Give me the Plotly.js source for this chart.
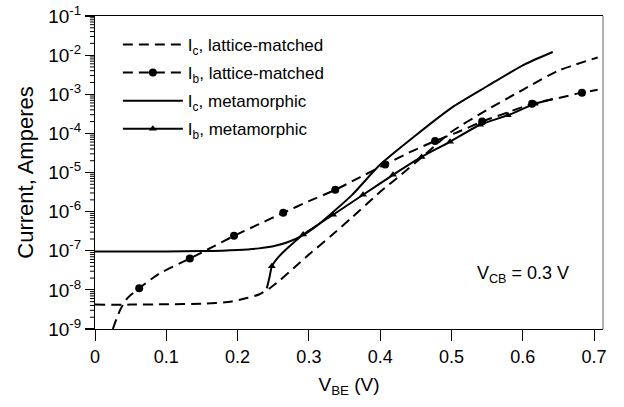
<!DOCTYPE html>
<html>
<head>
<meta charset="utf-8">
<script src="https://cdn.plot.ly/plotly-3.0.1.min.js"></script>
<style>html,body{margin:0;padding:0;background:#fff;}#chart{width:624px;height:407px;}</style>
</head>
<body>
<div id="chart"></div>
<script>
// Ic, lattice-matched (dashed)
const icLatV = [0, 0.05, 0.10, 0.15, 0.19, 0.21, 0.23, 0.245, 0.26, 0.28, 0.30, 0.33, 0.36, 0.40, 0.43, 0.46, 0.50, 0.55, 0.60, 0.65, 0.705];
const icLatI = [4.2e-9, 4.2e-9, 4.3e-9, 4.4e-9, 5e-9, 6e-9, 7.6e-9, 1.1e-8, 1.8e-8, 3.8e-8, 8e-8, 2.3e-7, 7e-7, 3.2e-6, 9e-6, 2.6e-5, 1.1e-4, 4e-4, 1.3e-3, 4e-3, 8.7e-3];

// Ib, lattice-matched (dashed line + dots)
const ibLatV = [0.025, 0.035, 0.045, 0.062, 0.09, 0.133, 0.165, 0.195, 0.23, 0.264, 0.30, 0.337, 0.37, 0.407, 0.44, 0.477, 0.51, 0.543, 0.58, 0.613, 0.65, 0.683, 0.705];
const ibLatI = [1e-9, 3e-9, 6e-9, 1.1e-8, 2.6e-8, 6.3e-8, 1.25e-7, 2.4e-7, 4.8e-7, 9.3e-7, 1.85e-6, 3.6e-6, 7.3e-6, 1.6e-5, 3.2e-5, 6.4e-5, 1.1e-4, 2e-4, 3.5e-4, 5.7e-4, 8e-4, 1.1e-3, 1.3e-3];
const ibLatMarkV = [0.062, 0.133, 0.195, 0.264, 0.337, 0.407, 0.477, 0.543, 0.613, 0.683];
const ibLatMarkI = [1.1e-8, 6.3e-8, 2.4e-7, 9.3e-7, 3.6e-6, 1.6e-5, 6.4e-5, 2e-4, 5.7e-4, 1.1e-3];

// Ic, metamorphic (solid)
const icMetV = [0, 0.05, 0.10, 0.15, 0.20, 0.23, 0.25, 0.27, 0.29, 0.31, 0.33, 0.36, 0.40, 0.45, 0.50, 0.55, 0.60, 0.642];
const icMetI = [9.5e-8, 9.5e-8, 9.6e-8, 9.8e-8, 1.05e-7, 1.15e-7, 1.3e-7, 1.65e-7, 2.4e-7, 4.2e-7, 8.5e-7, 2.6e-6, 1.6e-5, 9e-5, 4.5e-4, 1.6e-3, 5.5e-3, 1.2e-2];

// Ib, metamorphic (solid line + triangles)
const ibMetV = [0.241, 0.245, 0.248, 0.256, 0.266, 0.28, 0.292, 0.334, 0.376, 0.418, 0.458, 0.498, 0.54, 0.579, 0.617, 0.642];
const ibMetI = [1.1e-8, 2.2e-8, 4e-8, 6.5e-8, 1e-7, 1.7e-7, 2.6e-7, 8.3e-7, 2.7e-6, 8.7e-6, 2.5e-5, 6.1e-5, 1.66e-4, 2.9e-4, 5.7e-4, 7.6e-4];
const ibMetMarkV = [0.248, 0.292, 0.334, 0.376, 0.418, 0.458, 0.498, 0.54, 0.579, 0.617];
const ibMetMarkI = [4e-8, 2.6e-7, 8.3e-7, 2.7e-6, 8.7e-6, 2.5e-5, 6.1e-5, 1.66e-4, 2.9e-4, 5.7e-4];

const legendNames = ["I<sub>c</sub>, lattice-matched", "I<sub>b</sub>, lattice-matched", "I<sub>c</sub>, metamorphic", "I<sub>b</sub>, metamorphic"];
const yTickVals = [1e-9, 1e-8, 1e-7, 1e-6, 1e-5, 1e-4, 1e-3, 1e-2, 1e-1];
const yTickText = ["10<sup>-9</sup>", "10<sup>-8</sup>", "10<sup>-7</sup>", "10<sup>-6</sup>", "10<sup>-5</sup>", "10<sup>-4</sup>", "10<sup>-3</sup>", "10<sup>-2</sup>", "10<sup>-1</sup>"];
const yMinorVals = [];
for (let e = -9; e < -1; e++) { for (let m = 2; m <= 9; m++) { yMinorVals.push(m * Math.pow(10, e)); } }
const xTickVals = [0, 0.1, 0.2, 0.3, 0.4, 0.5, 0.6, 0.7];
const xTickText = ["0", "0.1", "0.2", "0.3", "0.4", "0.5", "0.6", "0.7"];

const FONT = "Liberation Sans, Arial, sans-serif";
const dashed = "10px,6px";
const lw = 2;
const Y_RANGE = [-9, -1];
const X_RANGE = [0, 0.7125];

const traces = [
  {x: icLatV, y: icLatI, mode: "lines", name: legendNames[0], legendgroup: "a", line: {color: "#000", width: lw, dash: dashed, shape: "spline", smoothing: 0.6}},
  {x: ibLatV, y: ibLatI, mode: "lines", showlegend: false, legendgroup: "b", line: {color: "#000", width: lw, dash: dashed, shape: "spline", smoothing: 0.6}},
  {x: ibLatMarkV, y: ibLatMarkI, mode: "markers", showlegend: false, legendgroup: "b", marker: {symbol: "circle", size: 8, color: "#000"}},
  {x: [null], y: [null], mode: "lines+markers", name: legendNames[1], legendgroup: "b", line: {color: "#000", width: lw, dash: dashed}, marker: {symbol: "circle", size: 8, color: "#000"}},
  {x: icMetV, y: icMetI, mode: "lines", name: legendNames[2], legendgroup: "c", line: {color: "#000", width: lw, shape: "spline", smoothing: 0.6}},
  {x: ibMetV, y: ibMetI, mode: "lines", showlegend: false, legendgroup: "d", line: {color: "#000", width: lw, shape: "spline", smoothing: 0.6}},
  {x: ibMetMarkV, y: ibMetMarkI, mode: "markers", showlegend: false, legendgroup: "d", marker: {symbol: "triangle-up", size: 7, color: "#000"}},
  {x: [null], y: [null], mode: "lines+markers", name: legendNames[3], legendgroup: "d", line: {color: "#000", width: lw}, marker: {symbol: "triangle-up", size: 7, color: "#000"}},
  // minor log ticks of the left axis: short horizontal strokes just outside the axis line
  {x: yMinorVals.map(() => -0.0035), y: yMinorVals, mode: "markers", showlegend: false, hoverinfo: "skip", cliponaxis: false,
   marker: {symbol: "line-ew", size: 5, color: "#000", line: {color: "#000", width: 1}}}
];

// same minor ticks also as paper-referenced line shapes (fallback)
const minorTickShapes = yMinorVals.map(v => {
  const f = (Math.log10(v) - Y_RANGE[0]) / (Y_RANGE[1] - Y_RANGE[0]);
  return {type: "line", xref: "paper", yref: "paper", x0: -0.01, x1: 0, y0: f, y1: f, layer: "above", line: {color: "#000", width: 1}};
});

const layout = {
  width: 624, height: 407,
  margin: {l: 95, r: 21, t: 16, b: 78},
  paper_bgcolor: "#fff", plot_bgcolor: "#fff",
  font: {family: FONT, color: "#000", size: 18},
  showlegend: true,
  legend: {x: 0.045, y: 0.965, xanchor: "left", yanchor: "top", bgcolor: "rgba(0,0,0,0)", font: {size: 17, family: FONT}, itemwidth: 60, traceorder: "grouped", tracegroupgap: 3},
  xaxis: {
    range: X_RANGE, showgrid: false, zeroline: false,
    showline: true, linecolor: "#000", linewidth: 1, mirror: true,
    ticks: "outside", ticklen: 11, tickcolor: "#000", tickwidth: 1,
    tickmode: "array", tickvals: xTickVals, ticktext: xTickText,
    tickfont: {size: 18},
    title: {text: "V<sub>BE</sub> (V)", font: {size: 19}, standoff: 12}
  },
  yaxis: {
    type: "log", range: Y_RANGE, showgrid: false, zeroline: false,
    showline: true, linecolor: "#000", linewidth: 1, mirror: false,
    ticks: "outside", ticklen: 9, tickcolor: "#000", tickwidth: 1.2,
    tickmode: "array", tickvals: yTickVals, ticktext: yTickText,
    tickfont: {size: 19},
    title: {text: "Current, Amperes", font: {size: 22}, standoff: 8}
  },
  shapes: [
    {type: "line", xref: "paper", yref: "paper", x0: 1, x1: 1, y0: 0, y1: 1, line: {color: "#999", width: 1.5}}
  ].concat(minorTickShapes),
  annotations: [
    {xref: "x", yref: "y", x: 0.6, y: -7.6, text: "V<sub>CB</sub> = 0.3 V", showarrow: false, font: {size: 18, family: FONT}, xanchor: "center"}
  ]
};

Plotly.newPlot("chart", traces, layout, {displayModeBar: false, staticPlot: true});
</script>
</body>
</html>
